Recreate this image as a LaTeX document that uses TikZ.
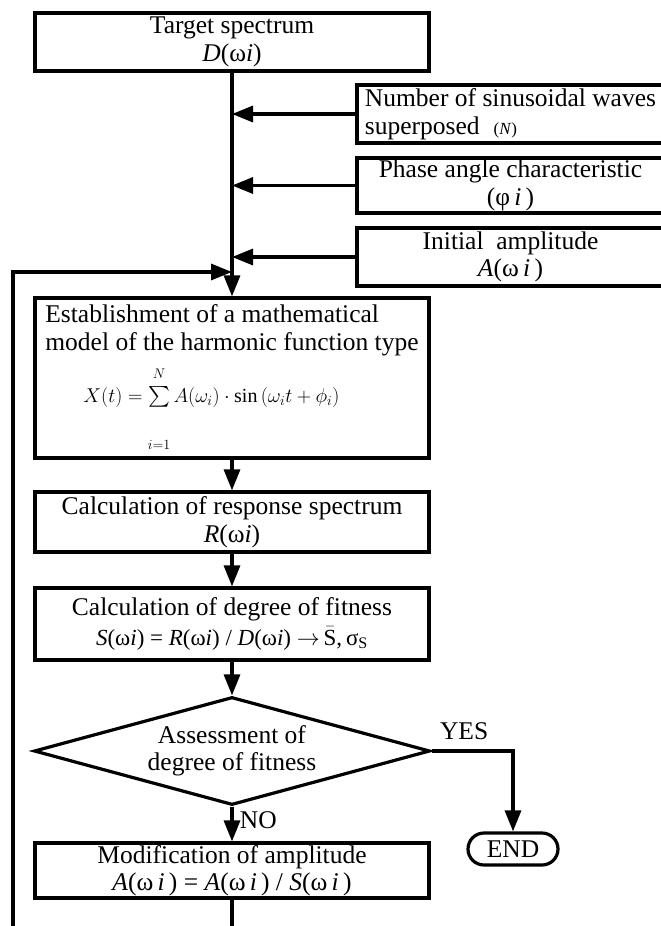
\RequirePackage{fix-cm}
\documentclass[tikz,border=0pt]{standalone}
\usepackage{exscale}
\usepackage{fontspec}
\setmainfont{Liberation Serif}
\usetikzlibrary{arrows.meta,shapes.geometric}

\newcommand{\wi}[1]{\textit{#1}(ω\textit{i})}
\newcommand{\wsp}[1]{\textit{#1}(ω\,\textit{i}\,)}

\begin{document}
\begin{tikzpicture}[x=1pt,y=-1pt,
    font=\fontsize{25.5}{27.5}\selectfont,
    box/.style={draw, line width=3.2pt, minimum width=394pt, inner sep=2pt, align=center},
    side/.style={draw, line width=3.2pt, minimum width=307pt, inner sep=1pt, align=center},
    arr/.style={line width=3.2pt, -{Triangle[length=21pt,width=16pt]}}]
    \useasboundingbox (0,0) rectangle (661,926);
    \node[box, minimum height=58pt] (target) at (232,42) {Target spectrum\\ \wi{D}};
    \node[side, minimum height=58pt, align=left] (num) at (510.5,114)
        {Number of sinusoidal waves\\ superposed\hspace{14pt}{\fontsize{17}{17}\selectfont(\textit{N})}};
    \node[side, minimum height=55pt] (phase) at (510.5,185.5) {Phase angle characteristic\\ (φ\,\textit{i}\,)};
    \node[side, minimum height=58pt] (init) at (510.5,257) {Initial\ \ amplitude\\ \wsp{A}};
    \node[box, minimum height=160pt, align=left] (model) at (232,378)
        {Establishment of a mathematical\\ model of the harmonic function type\\[10pt]
        \hspace*{38pt}{\fontsize{20}{24}\selectfont$X(t) = \sum\limits_{\rule{0pt}{38pt}i=1}^{N\rule[-6pt]{0pt}{6pt}} A(\omega_i)\cdot\sin\,(\omega_i t+\phi_i)$}};
    \node[box, minimum height=60pt] (resp) at (232,522) {Calculation of response spectrum\\ \wi{R}};
    \node[box, minimum height=72pt] (fit) at (232,624) {Calculation of degree of fitness\\[2pt]
        {\fontsize{23}{25}\selectfont \wi{S} = \wi{R} / \wi{D} $\rightarrow$\,$\bar{\mbox{S}}$,\,σ\textsubscript{S}}};
    \node[diamond, draw, line width=3.2pt, shape aspect=3.67, minimum width=396pt, minimum height=108pt,
        inner sep=0pt, align=center] (assess) at (232,751) {Assessment of\\ degree of fitness};
    \node[box, minimum height=55pt] (mod) at (232,870.5) {Modification of amplitude\\ \wsp{A} = \wsp{A} / \wsp{S}};
    \node[draw, line width=3.2pt, rounded corners=16pt, minimum width=90pt, minimum height=32pt, inner sep=0pt]
        (fin) at (513,849) {END};
    \coordinate (join) at (232,272);
    \coordinate (loopl) at (13,945);
    \draw[arr] (target) -- (model);
    \draw[arr] (num.west) -- (num.west -| target.south);
    \draw[arr] (phase.west) -- (phase.west -| target.south);
    \draw[arr] (init.west) -- (init.west -| target.south);
    \draw[arr] (mod.south) |- (loopl) |- (join);
    \draw[arr] (model) -- (resp);
    \draw[arr] (resp) -- (fit);
    \draw[arr] (fit) -- (assess);
    \draw[arr] (assess) -- node[right=3pt, pos=0.4] {NO} (mod);
    \draw[arr] (assess.east) -| node[pos=0.2, above=6pt] {YES} (fin);
\end{tikzpicture}
\end{document}
